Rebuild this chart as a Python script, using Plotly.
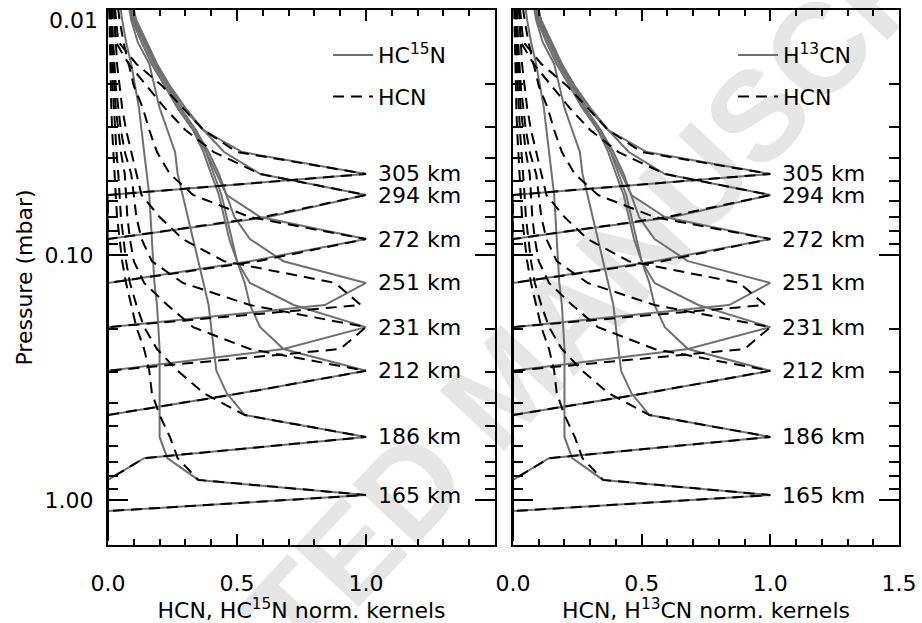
import math
import plotly.graph_objects as go

# ---------------- data ----------------
# pressure grid (mbar) of the kernels
PRESSURE_MBAR = [0.0083, 0.0110, 0.0135, 0.0166, 0.0204, 0.0251, 0.0309, 0.0380,
                 0.0467, 0.0569, 0.0700, 0.0861, 0.106, 0.130, 0.160, 0.197,
                 0.242, 0.297, 0.366, 0.450, 0.553, 0.675, 0.828, 0.955, 1.11, 1.46]

ALTITUDES_KM = [305, 294, 272, 251, 231, 212, 186, 165]

# isotopologue (HC15N / H13CN) normalised kernels  -- solid grey
ISO_305 = [0.08, 0.11, 0.15, 0.19, 0.24, 0.30, 0.37, 0.52, 1.00, 0.0, 0.0, 0.0, 0.0,
           0.0, 0.0, 0.0, 0.0, 0.0, 0.0, 0.0, 0.0, 0.0, 0.0, 0.0, 0.0, 0.0]
ISO_294 = [0.08, 0.105, 0.145, 0.185, 0.235, 0.29, 0.37, 0.45, 0.59, 1.00, 0.62, 0.0, 0.0,
           0.0, 0.0, 0.0, 0.0, 0.0, 0.0, 0.0, 0.0, 0.0, 0.0, 0.0, 0.0, 0.0]
ISO_272 = [0.075, 0.10, 0.14, 0.18, 0.23, 0.28, 0.34, 0.38, 0.42, 0.46, 0.59, 1.00, 0.55,
           0.0, 0.0, 0.0, 0.0, 0.0, 0.0, 0.0, 0.0, 0.0, 0.0, 0.0, 0.0, 0.0]
ISO_251 = [0.075, 0.10, 0.14, 0.18, 0.23, 0.28, 0.34, 0.39, 0.43, 0.46, 0.49, 0.55, 0.68,
           1.00, 0.84, 0.0, 0.0, 0.0, 0.0, 0.0, 0.0, 0.0, 0.0, 0.0, 0.0, 0.0]
ISO_231 = [0.07, 0.095, 0.13, 0.17, 0.22, 0.27, 0.33, 0.37, 0.40, 0.43, 0.45, 0.47, 0.50,
           0.55, 0.72, 1.00, 0.68, 0.0, 0.0, 0.0, 0.0, 0.0, 0.0, 0.0, 0.0, 0.0]
ISO_212 = [0.07, 0.095, 0.13, 0.17, 0.22, 0.27, 0.33, 0.38, 0.41, 0.44, 0.46, 0.48, 0.50,
           0.53, 0.55, 0.59, 0.68, 1.00, 0.52, 0.0, 0.0, 0.0, 0.0, 0.0, 0.0, 0.0]
ISO_186 = [0.07, 0.09, 0.115, 0.16, 0.18, 0.20, 0.23, 0.26, 0.27, 0.29, 0.31, 0.33, 0.35,
           0.37, 0.39, 0.40, 0.41, 0.42, 0.46, 0.53, 1.00, 0.14, 0.0, 0.0, 0.0, 0.0]
ISO_165 = [0.04, 0.055, 0.07, 0.09, 0.105, 0.12, 0.13, 0.14, 0.15, 0.16, 0.165, 0.17, 0.175,
           0.18, 0.19, 0.195, 0.20, 0.20, 0.20, 0.20, 0.20, 0.23, 0.35, 1.00, 0.0, 0.0]

# main isotope HCN normalised kernels -- dashed black
HCN_305 = [0.02, 0.03, 0.04, 0.11, 0.21, 0.29, 0.37, 0.50, 1.00, 0.0, 0.0, 0.0, 0.0,
           0.0, 0.0, 0.0, 0.0, 0.0, 0.0, 0.0, 0.0, 0.0, 0.0, 0.0, 0.0, 0.0]
HCN_294 = [0.02, 0.025, 0.03, 0.08, 0.15, 0.22, 0.30, 0.41, 0.59, 1.00, 0.60, 0.0, 0.0,
           0.0, 0.0, 0.0, 0.0, 0.0, 0.0, 0.0, 0.0, 0.0, 0.0, 0.0, 0.0, 0.0]
HCN_272 = [0.03, 0.045, 0.06, 0.08, 0.10, 0.135, 0.16, 0.19, 0.24, 0.33, 0.55, 1.00, 0.58,
           0.0, 0.0, 0.0, 0.0, 0.0, 0.0, 0.0, 0.0, 0.0, 0.0, 0.0, 0.0, 0.0]
HCN_251 = [0.02, 0.025, 0.03, 0.035, 0.045, 0.055, 0.07, 0.09, 0.11, 0.13, 0.20, 0.29, 0.45,
           0.88, 0.98, 0.0, 0.0, 0.0, 0.0, 0.0, 0.0, 0.0, 0.0, 0.0, 0.0, 0.0]
HCN_231 = [0.012, 0.016, 0.02, 0.025, 0.03, 0.04, 0.05, 0.065, 0.09, 0.10, 0.11, 0.13, 0.17,
           0.29, 0.55, 1.00, 0.90, 0.0, 0.0, 0.0, 0.0, 0.0, 0.0, 0.0, 0.0, 0.0]
HCN_212 = [0.01, 0.012, 0.015, 0.02, 0.025, 0.03, 0.04, 0.05, 0.065, 0.07, 0.075, 0.085, 0.10,
           0.14, 0.23, 0.33, 0.55, 1.00, 0.52, 0.0, 0.0, 0.0, 0.0, 0.0, 0.0, 0.0]
HCN_186 = [0.008, 0.01, 0.012, 0.015, 0.018, 0.022, 0.027, 0.033, 0.04, 0.045, 0.05, 0.06, 0.07,
           0.085, 0.11, 0.14, 0.19, 0.27, 0.37, 0.53, 1.00, 0.14, 0.0, 0.0, 0.0, 0.0]
HCN_165 = [0.003, 0.005, 0.007, 0.009, 0.011, 0.013, 0.016, 0.02, 0.025, 0.03, 0.035, 0.045, 0.055,
           0.07, 0.09, 0.11, 0.14, 0.16, 0.17, 0.20, 0.24, 0.27, 0.35, 1.00, 0.0, 0.0]

ISO_KERNELS = [ISO_305, ISO_294, ISO_272, ISO_251, ISO_231, ISO_212, ISO_186, ISO_165]
HCN_KERNELS = [HCN_305, HCN_294, HCN_272, HCN_251, HCN_231, HCN_212, HCN_186, HCN_165]
for k in ISO_KERNELS + HCN_KERNELS:
    assert len(k) == len(PRESSURE_MBAR)

X_MINOR = [0.1, 0.2, 0.3, 0.4, 0.6, 0.7, 0.8, 0.9, 1.1, 1.2, 1.3, 1.4]
Y_TOP = 0.01
Y_TOP_TEXT = "0.01"
Y_MAJOR = [0.1, 1.0]
Y_MAJOR_TEXT = ["0.10", "1.00"]
Y_MINOR = [0.02, 0.03, 0.04, 0.05, 0.06, 0.07, 0.08, 0.09,
           0.2, 0.3, 0.4, 0.5, 0.6, 0.7, 0.8, 0.9]

PANELS = [
    dict(xa="x", ya="y", legend="legend", iso="HC<sup>15</sup>N",
         xtitle="HCN, HC<sup>15</sup>N norm. kernels",
         xvals=[0.0, 0.5, 1.0], xticks=["0.0", "0.5", "1.0"]),
    dict(xa="x2", ya="y2", legend="legend2", iso="H<sup>13</sup>CN",
         xtitle="HCN, H<sup>13</sup>CN norm. kernels",
         xvals=[0.0, 0.5, 1.0, 1.5], xticks=["0.0", "0.5", "1.0", "1.5"]),
]

# ---------------- style ----------------
FONT = "DejaVu Sans"
GRAY = "#707070"
W, H = 922, 623
FS = 22

fig = go.Figure()

for pan in PANELS:
    for i, k in enumerate(ISO_KERNELS):
        fig.add_trace(go.Scatter(
            x=k, y=PRESSURE_MBAR, mode="lines", xaxis=pan["xa"], yaxis=pan["ya"],
            line=dict(color=GRAY, width=2), name=pan["iso"], legend=pan["legend"],
            legendgroup="iso", showlegend=(i == 0), hoverinfo="skip"))
    for i, k in enumerate(HCN_KERNELS):
        fig.add_trace(go.Scatter(
            x=k, y=PRESSURE_MBAR, mode="lines", xaxis=pan["xa"], yaxis=pan["ya"],
            line=dict(color="black", width=2, dash="11px,7px"), name="HCN",
            legend=pan["legend"], legendgroup="hcn", showlegend=(i == 0),
            hoverinfo="skip"))
    # altitude labels at kernel peaks
    for alt, k in zip(ALTITUDES_KM, ISO_KERNELS):
        j = k.index(max(k))
        fig.add_annotation(x=k[j], y=math.log10(PRESSURE_MBAR[j]),
                           xref=pan["xa"], yref=pan["ya"], text=f"{alt} km",
                           showarrow=False, xanchor="left", xshift=10,
                           font=dict(family=FONT, size=FS, color="black"))

# top pressure label (kept inside the figure, as in the original)
fig.add_annotation(x=0, y=math.log10(Y_TOP), xref="x domain", yref="y",
                   text=Y_TOP_TEXT, showarrow=False, xanchor="right", yanchor="middle",
                   xshift=-8, yshift=-10,
                   font=dict(family=FONT, size=FS, color="black"))

LEFT_DOM = [108 / W, 495 / W]
RIGHT_DOM = [513 / W, 899 / W]

def xaxis(dom, vals, ticktext, title):
    return dict(domain=dom, range=[0, 1.5], showline=True, linecolor="black",
                linewidth=2, mirror="ticks", ticks="inside", ticklen=11,
                tickwidth=1.5, tickcolor="black", tickvals=vals, ticktext=ticktext,
                minor=dict(tickvals=X_MINOR, ticks="inside", ticklen=6, tickwidth=1.5,
                           tickcolor="black", showgrid=False),
                showgrid=False, zeroline=False, ticklabelstandoff=18,
                tickfont=dict(family=FONT, size=FS, color="black"),
                title=dict(text=title, font=dict(family=FONT, size=FS, color="black"),
                           standoff=4),
                automargin=False, fixedrange=True)

def yaxis(anchor, labels):
    ax = dict(anchor=anchor, domain=[0, 1], type="log",
              range=[0.1837, -2.0], showline=True, linecolor="black", linewidth=2,
              mirror="ticks", ticks="inside", ticklen=20, tickwidth=1.5,
              tickcolor="black", tickvals=Y_MAJOR, ticktext=Y_MAJOR_TEXT,
              showticklabels=labels,
              minor=dict(tickvals=Y_MINOR, ticks="inside", ticklen=10, tickwidth=1.5,
                         tickcolor="black", showgrid=False),
              showgrid=False, zeroline=False, ticklabelstandoff=8,
              tickfont=dict(family=FONT, size=FS, color="black"),
              automargin=False, fixedrange=True)
    if labels:
        ax["title"] = dict(text="Pressure (mbar)",
                           font=dict(family=FONT, size=FS, color="black"), standoff=6)
    return ax

legend_common = dict(font=dict(family=FONT, size=FS, color="black"),
                     bgcolor="rgba(0,0,0,0)", borderwidth=0, traceorder="grouped",
                     tracegroupgap=10, xanchor="left", yanchor="top", itemwidth=40)

fig.update_layout(
    width=W, height=H,
    margin=dict(l=0, r=0, t=10, b=78),
    paper_bgcolor="white", plot_bgcolor="rgba(0,0,0,0)",
    xaxis=xaxis(LEFT_DOM, PANELS[0]["xvals"], PANELS[0]["xticks"], PANELS[0]["xtitle"]),
    xaxis2=xaxis(RIGHT_DOM, PANELS[1]["xvals"], PANELS[1]["xticks"], PANELS[1]["xtitle"]),
    yaxis=yaxis("x", True),
    yaxis2=yaxis("x2", False),
    legend=dict(x=328 / W, y=0.955, **legend_common),
    legend2=dict(x=733 / W, y=0.955, **legend_common),
    showlegend=True,
    shapes=[dict(type="rect", xref="paper", yref="paper", x0=0.238, x1=0.838,
                 y0=0.0, y1=0.628, layer="below", line=dict(width=0),
                 fillcolor="rgba(0,0,0,0)",
                 label=dict(text="ACCEPTED MANUSCRIPT", textangle=-47,
                            textposition="middle center",
                            font=dict(family="Liberation Sans", size=128,
                                      weight="bold", color="#e6e6e6")))],
)

fig.write_html("out.html")
